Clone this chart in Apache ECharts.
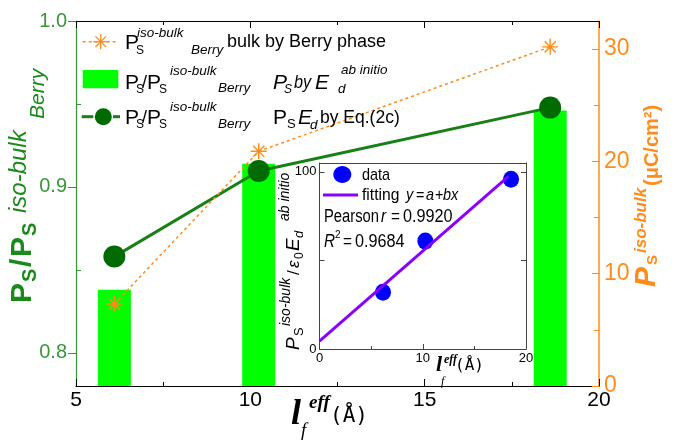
<!DOCTYPE html>
<html>
<head>
<meta charset="utf-8">
<script src="https://cdn.jsdelivr.net/npm/echarts@6/dist/echarts.min.js"></script>
<style>
  html, body { margin: 0; padding: 0; background: #fff; }
  #chart { width: 674px; height: 442px; }
</style>
</head>
<body>
<div id="chart"></div>
<script>
// ---- data ----
const lengthsEff = [6.1, 10.24, 18.6];          // l_f^eff (Å)
const ratioAbInitio = [0.838, 0.914, 0.946];     // Ps/Ps(iso-bulk, Berry), Ps by Ed ab initio
const ratioEq2c = [0.858, 0.9096, 0.9478];       // Ps/Ps(iso-bulk, Berry), Ps Ed by Eq.(2c)
const psBerry = [7.3, 20.9, 30.2];               // Ps iso-bulk by Berry phase (µC/cm²)

const insetLengths = [6.15, 10.25, 18.55];       // inset data, l_f^eff (Å)
const insetValues = [32.0, 60.9, 95.8];          // Ps / ε0 Ed (ab initio)
const fitLengths = [0, 18.3];                    // fitted line y = a + b x
const fitValues = [4.5, 97.5];

const leftTicks = [0.8, 0.9, 1.0];
const leftMinorTicks = [0.85, 0.95];
const rightTicks = [0, 10, 20, 30];
const rightMinorTicks = [5, 15, 25];
const insetYTicks = [0, 100];
const insetYTickMarks = [0, 50, 100];

// ---- styles ----
const SANS = "'Liberation Sans', Arial, sans-serif";
const SERIF = "'Liberation Serif', 'Times New Roman', serif";
const MONO = "'DejaVu Sans Mono', monospace";

const GREEN_BAR = '#00ff00';
const GREEN_LINE = '#178017';
const GREEN_DOT = '#006b00';
const GREEN_AXIS = '#3a963a';
const GREEN_TITLE = '#1b8a1b';
const ORANGE = '#ff8c1a';
const BLUE = '#0000ff';
const PURPLE = '#8a00ff';
const INK = '#000';

const starPath = 'path://M10 0 L10 20 M0 10 L20 10 M3 3 L17 17 M3 17 L17 3';

function font(spec) {
  return (spec.italic ? 'italic ' : '') + (spec.bold ? 'bold ' : '') + spec.size + 'px ' + (spec.family || SANS);
}
// text placed by its baseline; spec.sx condenses the glyphs horizontally
function txt(x, base, text, spec, color) {
  const sx = spec.sx || 1;
  return {
    type: 'text', x: x, y: base, scaleX: sx, silent: true, z: 100,
    style: { text: text, x: 0, y: -0.347 * spec.size, font: font(spec), fill: color || INK, align: 'left', verticalAlign: 'middle' }
  };
}
// a run of pieces rotated to read upwards, origin at the start of the baseline
function upward(x, y, pieces, color) {
  return {
    type: 'group', x: x, y: y, rotation: Math.PI / 2, z: 100,
    children: pieces.map(p => txt(p.u, p.v || 0, p.t, p, color))
  };
}

const graphics = [];

// legend: row 1 (Berry phase)
graphics.push({ type: 'line', z: 100, shape: { x1: 82.7, y1: 41.7, x2: 118.3, y2: 41.7 },
  style: { stroke: ORANGE, lineWidth: 1.5, lineDash: [3, 3] } });
[[0, -7.5, 0, 7.5], [-7.5, 0, 7.5, 0], [-5.3, -5.3, 5.3, 5.3], [-5.3, 5.3, 5.3, -5.3]].forEach(s => {
  graphics.push({ type: 'line', z: 100, shape: { x1: 100.7 + s[0], y1: 41.7 + s[1], x2: 100.7 + s[2], y2: 41.7 + s[3] },
    style: { stroke: ORANGE, lineWidth: 1.3 } });
});
graphics.push(
  txt(125, 50, 'P', { size: 21 }),
  txt(136, 55, 'S', { size: 12 }),
  txt(137, 38, 'iso-bulk', { size: 13.5, italic: true }),
  txt(191, 55, 'Berry', { size: 13.5, italic: true }),
  txt(227, 48, 'bulk by Berry phase', { size: 18 })
);

// legend: row 2 (bars)
graphics.push({ type: 'rect', z: 100, shape: { x: 82.7, y: 70, width: 35.6, height: 18.3 }, style: { fill: GREEN_BAR } });
graphics.push(
  txt(125, 90, 'P', { size: 21 }),
  txt(136, 94, 'S', { size: 12 }),
  txt(142, 89, '/', { size: 18 }),
  txt(147, 90, 'P', { size: 21 }),
  txt(159, 94, 'S', { size: 12 }),
  txt(170, 76, 'iso-bulk', { size: 13.5, italic: true }),
  txt(218, 93, 'Berry', { size: 13.5, italic: true }),
  txt(273, 90, 'P', { size: 21, italic: true }),
  txt(284, 94, 'S', { size: 12, italic: true }),
  txt(294, 89, 'by', { size: 18, italic: true, sx: 0.9 }),
  txt(315, 90, 'E', { size: 21, italic: true }),
  txt(338, 94, 'd', { size: 13.5, italic: true }),
  txt(341, 75, 'ab initio', { size: 13.5, italic: true })
);

// legend: row 3 (Eq. 2c)
graphics.push(
  { type: 'line', z: 100, shape: { x1: 81.7, y1: 116.7, x2: 93.3, y2: 116.7 }, style: { stroke: GREEN_LINE, lineWidth: 3 } },
  { type: 'line', z: 100, shape: { x1: 113, y1: 116.7, x2: 120, y2: 116.7 }, style: { stroke: GREEN_LINE, lineWidth: 3 } },
  { type: 'circle', z: 100, shape: { cx: 103.3, cy: 116.7, r: 8.5 }, style: { fill: GREEN_DOT } }
);
graphics.push(
  txt(125, 125, 'P', { size: 21 }),
  txt(136, 129, 'S', { size: 12 }),
  txt(142, 124, '/', { size: 18 }),
  txt(147, 125, 'P', { size: 21 }),
  txt(159, 129, 'S', { size: 12 }),
  txt(170, 112, 'iso-bulk', { size: 13.5, italic: true }),
  txt(218, 129, 'Berry', { size: 13.5, italic: true }),
  txt(273, 125, 'P', { size: 21 }),
  txt(287, 129, 'S', { size: 13 }),
  txt(298, 125, 'E', { size: 21, italic: true }),
  txt(310, 130, 'd', { size: 13.5, italic: true }),
  txt(320, 124, 'by Eq.(2c)', { size: 17.5 })
);

// left axis title
graphics.push(upward(33, 303, [
  { u: 0, t: 'P', size: 30, bold: true },
  { u: 21, v: 4, t: 'S', size: 20, bold: true },
  { u: 36, t: '/', size: 30, bold: true },
  { u: 46, t: 'P', size: 30, bold: true },
  { u: 67, v: 4, t: 'S', size: 20, bold: true },
  { u: 90, v: -5, t: 'iso-bulk', size: 24, italic: true },
  { u: 184, v: 12, t: 'Berry', size: 21, italic: true }
], GREEN_TITLE));

// right axis title
graphics.push(upward(657, 287, [
  { u: 0, t: 'P', size: 30, bold: true, italic: true },
  { u: 22, v: 1, t: 'S', size: 15, bold: true },
  { u: 34, v: -10, t: 'iso-bulk', size: 17, bold: true, italic: true },
  { u: 101, v: 2, t: '(μC/cm²)', size: 20, bold: true }
], ORANGE));

// bottom axis title
graphics.push(
  txt(291, 427, 'l', { size: 36, bold: true, italic: true, family: SERIF }),
  txt(301, 438, 'f', { size: 19, italic: true, family: SERIF }),
  txt(309, 410, 'eff', { size: 19, bold: true, italic: true, family: SERIF }),
  txt(330, 424, '(Å)', { size: 21, family: MONO })
);

// inset legend and statistics
graphics.push(
  { type: 'ellipse', z: 100, shape: { cx: 342.3, cy: 174.5, rx: 9, ry: 8.5 }, style: { fill: BLUE } },
  { type: 'line', z: 100, shape: { x1: 323, y1: 195, x2: 358, y2: 195 }, style: { stroke: PURPLE, lineWidth: 3 } },
  txt(362, 181, 'data', { size: 17, sx: 0.85 }),
  txt(362, 201, 'fitting', { size: 17, sx: 0.92 }),
  txt(406, 201, 'y', { size: 17, italic: true, sx: 0.85 }),
  txt(416, 201, '=', { size: 17, sx: 0.85 }),
  txt(426, 201, 'a', { size: 17, italic: true, sx: 0.85 }),
  txt(435, 201, '+', { size: 17, sx: 0.85 }),
  txt(443, 201, 'bx', { size: 17, italic: true, sx: 0.85 }),
  txt(324, 223, 'Pearson', { size: 18, sx: 0.82 }),
  txt(381, 223, 'r', { size: 18, italic: true, sx: 0.85 }),
  txt(391, 223, '=', { size: 18, sx: 0.85 }),
  txt(403, 223, '0.9920', { size: 18, sx: 0.9 }),
  txt(324, 248, 'R', { size: 18, italic: true, sx: 0.85 }),
  txt(335, 239, '2', { size: 10 }),
  txt(343, 248, '=', { size: 18, sx: 0.85 }),
  txt(355, 248, '0.9684', { size: 18, sx: 0.9 })
);

// inset axis titles
graphics.push(upward(300, 350, [
  { u: 0, t: 'P', size: 19, italic: true },
  { u: 14, v: 4, t: 'S', size: 13 },
  { u: 24, v: -9, t: 'iso-bulk', size: 14, italic: true },
  { u: 75, t: '/', size: 17 },
  { u: 82, t: 'ε', size: 17, italic: true },
  { u: 91, v: 4, t: '0', size: 12 },
  { u: 99, t: 'E', size: 19, italic: true },
  { u: 112, v: 4, t: 'd', size: 13, italic: true },
  { u: 129, v: -10, t: 'ab initio', size: 14, italic: true }
], INK));
graphics.push(
  txt(436, 373, 'l', { size: 22, bold: true, italic: true, family: SERIF }),
  txt(441, 386, 'f', { size: 12, italic: true, family: SERIF }),
  txt(444, 364, 'eff', { size: 12, bold: true, italic: true, family: SERIF }),
  txt(455, 371, '(Å)', { size: 16, family: MONO })
);

const pairs = (xs, ys) => xs.map((x, i) => [x, ys[i]]);
const noSplit = { splitLine: { show: false }, minorSplitLine: { show: false } };

const option = {
  animation: false,
  backgroundColor: '#fff',
  grid: [
    { left: 76, right: 75, top: 21, bottom: 56 },
    { left: 319.5, right: 148, top: 163, bottom: 93, show: true, backgroundColor: '#fff', borderWidth: 0 }
  ],
  xAxis: [
    Object.assign({
      gridIndex: 0, type: 'value', position: 'bottom', min: 5, max: 20, interval: 5,
      axisLine: { onZero: false, lineStyle: { color: INK, width: 1.2 } },
      axisTick: { inside: true, length: 7, lineStyle: { color: INK } },
      minorTick: { show: true, splitNumber: 2, length: 4, lineStyle: { color: INK } },
      axisLabel: { color: INK, fontSize: 21, fontFamily: SANS, margin: 4 }
    }, noSplit),
    Object.assign({
      gridIndex: 0, type: 'value', position: 'top', min: 5, max: 20, interval: 5,
      axisLine: { onZero: false, lineStyle: { color: INK, width: 1.2 } },
      axisTick: { inside: true, length: 7, lineStyle: { color: INK } },
      minorTick: { show: true, splitNumber: 2, length: 4, lineStyle: { color: INK } },
      axisLabel: { show: false }
    }, noSplit),
    Object.assign({
      gridIndex: 1, type: 'value', position: 'bottom', min: 0, max: 20, interval: 10,
      axisLine: { onZero: false, lineStyle: { color: '#444', width: 1 } },
      axisTick: { inside: true, length: 5, lineStyle: { color: '#444' } },
      minorTick: { show: true, splitNumber: 2, length: 3, lineStyle: { color: '#444' } },
      axisLabel: { color: INK, fontSize: 13, fontFamily: SANS, margin: 3 }
    }, noSplit),
    Object.assign({
      gridIndex: 1, type: 'value', position: 'top', min: 0, max: 20, interval: 10,
      axisLine: { onZero: false, lineStyle: { color: '#444', width: 1 } },
      axisTick: { show: false }, axisLabel: { show: false }
    }, noSplit)
  ],
  yAxis: [
    Object.assign({
      gridIndex: 0, type: 'value', position: 'left', min: 0.78, max: 1.0,
      axisLine: { show: true, onZero: false, lineStyle: { color: GREEN_AXIS, width: 1.2 } },
      axisTick: { show: true, customValues: leftTicks, inside: false, length: 8, lineStyle: { color: GREEN_AXIS } },
      axisLabel: { customValues: leftTicks, formatter: v => v.toFixed(1), color: GREEN_AXIS, fontSize: 20, fontFamily: SANS, margin: 9 }
    }, noSplit),
    Object.assign({
      gridIndex: 0, type: 'value', position: 'right', min: 0, max: 32.5,
      axisLine: { show: true, onZero: false, lineStyle: { color: ORANGE, width: 1.5 } },
      axisTick: { show: true, customValues: rightTicks, inside: true, length: 7, lineStyle: { color: ORANGE } },
      axisLabel: { customValues: rightTicks, color: ORANGE, fontSize: 23, fontFamily: SANS, margin: 5 }
    }, noSplit),
    Object.assign({
      gridIndex: 0, type: 'value', position: 'left', min: 0.78, max: 1.0,
      axisLine: { show: false, onZero: false },
      axisTick: { show: true, customValues: leftMinorTicks, inside: true, length: 5, lineStyle: { color: GREEN_AXIS } },
      axisLabel: { show: false }
    }, noSplit),
    Object.assign({
      gridIndex: 0, type: 'value', position: 'right', min: 0, max: 32.5,
      axisLine: { show: false, onZero: false },
      axisTick: { show: true, customValues: rightMinorTicks, inside: true, length: 5, lineStyle: { color: ORANGE } },
      axisLabel: { show: false }
    }, noSplit),
    Object.assign({
      gridIndex: 1, type: 'value', position: 'left', min: 0, max: 105,
      axisLine: { show: true, onZero: false, lineStyle: { color: '#444', width: 1 } },
      axisTick: { show: true, customValues: insetYTickMarks, inside: true, length: 5, lineStyle: { color: '#444' } },
      axisLabel: { customValues: insetYTicks, color: INK, fontSize: 13, fontFamily: SANS, margin: 3 }
    }, noSplit),
    Object.assign({
      gridIndex: 1, type: 'value', position: 'right', min: 0, max: 105,
      axisLine: { show: true, onZero: false, lineStyle: { color: '#444', width: 1 } },
      axisTick: { show: true, customValues: insetYTickMarks, inside: true, length: 5, lineStyle: { color: '#444' } },
      axisLabel: { show: false }
    }, noSplit)
  ],
  series: [
    {
      type: 'bar', xAxisIndex: 0, yAxisIndex: 0, barWidth: 33,
      data: pairs(lengthsEff, ratioAbInitio),
      itemStyle: { color: GREEN_BAR }
    },
    {
      type: 'line', xAxisIndex: 0, yAxisIndex: 0,
      data: pairs(lengthsEff, ratioEq2c),
      symbol: 'circle', symbolSize: 22,
      itemStyle: { color: GREEN_DOT },
      lineStyle: { color: GREEN_LINE, width: 3 }
    },
    {
      type: 'line', xAxisIndex: 0, yAxisIndex: 1,
      data: pairs(lengthsEff, psBerry),
      symbol: starPath, symbolSize: 16,
      itemStyle: { color: 'none', borderColor: ORANGE, borderWidth: 1.4 },
      lineStyle: { color: ORANGE, width: 1.5, type: [3, 3] }
    },
    {
      type: 'scatter', xAxisIndex: 2, yAxisIndex: 4,
      data: pairs(insetLengths, insetValues),
      symbol: 'circle', symbolSize: [16, 17],
      itemStyle: { color: BLUE, opacity: 1 }
    },
    {
      type: 'line', xAxisIndex: 2, yAxisIndex: 4,
      data: pairs(fitLengths, fitValues),
      symbol: 'none',
      lineStyle: { color: PURPLE, width: 3 }
    }
  ],
  graphic: graphics
};

const chart = echarts.init(document.getElementById('chart'), null, { renderer: 'canvas' });
chart.setOption(option);
</script>
</body>
</html>
